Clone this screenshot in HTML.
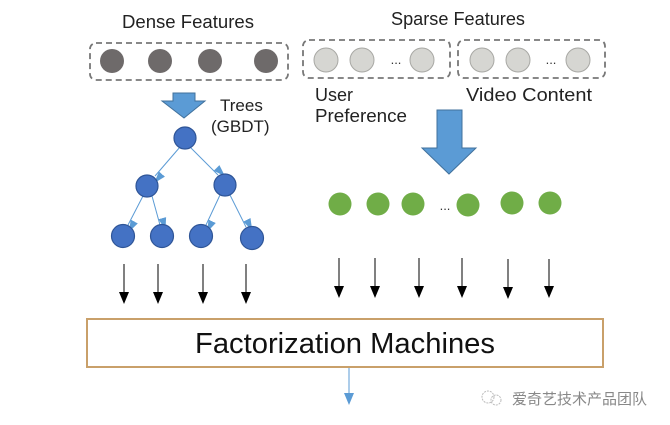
<!DOCTYPE html>
<html><head><meta charset="utf-8"><style>
html,body{margin:0;padding:0;background:#fff;}
svg{display:block;}
text{font-family:"Liberation Sans","Noto Sans CJK SC",sans-serif;}
</style></head><body>
<svg width="670" height="425" viewBox="0 0 670 425" xmlns="http://www.w3.org/2000/svg">
<defs>
<marker id="bl" markerWidth="12" markerHeight="12" refX="6" refY="10" orient="auto-start-reverse" markerUnits="userSpaceOnUse" viewBox="0 0 12 12"><path d="M0,2 L12,6 L0,10 z" fill="#5b9bd5"/></marker>
</defs>
<text x="188" y="28" font-size="18" text-anchor="middle" fill="#222" textLength="132" lengthAdjust="spacingAndGlyphs">Dense Features</text>
<text x="458" y="25" font-size="18" text-anchor="middle" fill="#222" textLength="134" lengthAdjust="spacingAndGlyphs">Sparse Features</text>
<rect x="90" y="43" width="198" height="37" rx="6" fill="none" stroke="#777" stroke-width="1.8" stroke-dasharray="6,4"/>
<rect x="303" y="40" width="147" height="38" rx="6" fill="none" stroke="#777" stroke-width="1.8" stroke-dasharray="6,4"/>
<rect x="458" y="40" width="147" height="38" rx="6" fill="none" stroke="#777" stroke-width="1.8" stroke-dasharray="6,4"/>
<g fill="#6e6a6a"><circle cx="112" cy="61" r="12"/><circle cx="160" cy="61" r="12"/><circle cx="210" cy="61" r="12"/><circle cx="266" cy="61" r="12"/></g>
<g fill="#d6d6d2" stroke="#a8a8a4" stroke-width="1"><circle cx="326" cy="60" r="12"/><circle cx="362" cy="60" r="12"/><circle cx="422" cy="60" r="12"/><circle cx="482" cy="60" r="12"/><circle cx="518" cy="60" r="12"/><circle cx="578" cy="60" r="12"/></g>
<text x="396" y="64" font-size="13" text-anchor="middle" fill="#333">...</text>
<text x="551" y="64" font-size="13" text-anchor="middle" fill="#333">...</text>
<text x="315" y="101" font-size="18" fill="#222">User</text>
<text x="315" y="122" font-size="18" fill="#222" textLength="92" lengthAdjust="spacingAndGlyphs">Preference</text>
<text x="466" y="101" font-size="18" fill="#222" textLength="126" lengthAdjust="spacingAndGlyphs">Video Content</text>
<path d="M173,93 L195,93 L195,101 L205,101 L184,118 L162,101 L173,101 z" fill="#5b9bd5" stroke="#41719c" stroke-width="1"/>
<text x="220" y="111" font-size="17" fill="#222">Trees</text>
<text x="211" y="132" font-size="17" fill="#222">(GBDT)</text>
<path d="M437,110 L462,110 L462,148 L476,148 L449,174 L422,148 L437,148 z" fill="#5b9bd5" stroke="#41719c" stroke-width="1"/>
<g stroke="#5b9bd5" stroke-width="1" marker-end="url(#bl)">
<line x1="180" y1="147" x2="155" y2="176"/><line x1="190" y1="147" x2="218" y2="175"/>
<line x1="143" y1="196" x2="128" y2="225"/><line x1="152" y1="196" x2="160" y2="225"/>
<line x1="220" y1="195" x2="206" y2="225"/><line x1="230" y1="195" x2="246" y2="227"/>
</g>
<g fill="#4472c4" stroke="#2f5597" stroke-width="1.2">
<circle cx="185" cy="138" r="11"/><circle cx="147" cy="186" r="11"/><circle cx="225" cy="185" r="11"/>
<circle cx="123" cy="236" r="11.5"/><circle cx="162" cy="236" r="11.5"/><circle cx="201" cy="236" r="11.5"/><circle cx="252" cy="238" r="11.5"/>
</g>
<g fill="#70ad47"><circle cx="340" cy="204" r="11.5"/><circle cx="378" cy="204" r="11.5"/><circle cx="413" cy="204" r="11.5"/><circle cx="468" cy="205" r="11.5"/><circle cx="512" cy="203" r="11.5"/><circle cx="550" cy="203" r="11.5"/></g>
<text x="445" y="210" font-size="13" text-anchor="middle" fill="#333">...</text>
<g stroke="#000" stroke-width="1">
<line x1="124" y1="264" x2="124" y2="296"/><line x1="158" y1="264" x2="158" y2="296"/><line x1="203" y1="264" x2="203" y2="296"/><line x1="246" y1="264" x2="246" y2="296"/>
<line x1="339" y1="258" x2="339" y2="290"/><line x1="375" y1="258" x2="375" y2="290"/><line x1="419" y1="258" x2="419" y2="290"/><line x1="462" y1="258" x2="462" y2="290"/><line x1="508" y1="259" x2="508" y2="291"/><line x1="549" y1="259" x2="549" y2="290"/>
</g>
<g fill="#000">
<path d="M119,292 h10 l-5,12z"/><path d="M153,292 h10 l-5,12z"/><path d="M198,292 h10 l-5,12z"/><path d="M241,292 h10 l-5,12z"/>
<path d="M334,286 h10 l-5,12z"/><path d="M370,286 h10 l-5,12z"/><path d="M414,286 h10 l-5,12z"/><path d="M457,286 h10 l-5,12z"/><path d="M503,287 h10 l-5,12z"/><path d="M544,286 h10 l-5,12z"/>
</g>
<rect x="87" y="319" width="516" height="48" fill="#fff" stroke="#c9a06a" stroke-width="2"/>
<text x="345" y="353" font-size="29" text-anchor="middle" fill="#111" textLength="300" lengthAdjust="spacingAndGlyphs">Factorization Machines</text>
<line x1="349" y1="368" x2="349" y2="394" stroke="#5b9bd5" stroke-width="1"/>
<path d="M344,393 L354,393 L349,405 z" fill="#5b9bd5"/>
<circle cx="488" cy="397" r="6" fill="none" stroke="#bbb" stroke-width="1" stroke-dasharray="2,1"/>
<circle cx="496" cy="400" r="5" fill="none" stroke="#bbb" stroke-width="1" stroke-dasharray="2,1"/>
<text x="512" y="404" font-size="15" fill="#888">爱奇艺技术产品团队</text>
</svg>
</body></html>
